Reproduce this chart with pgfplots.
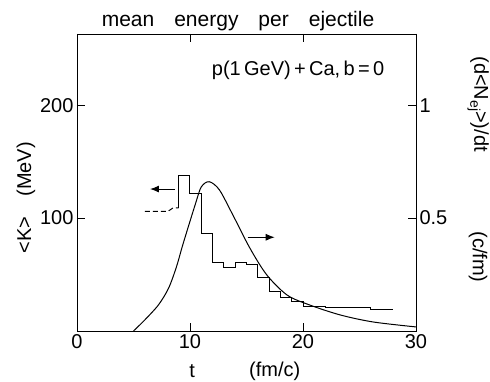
\documentclass[border=0pt]{standalone}
\usepackage{fontspec}
\setmainfont{Liberation Sans}
\usepackage{pgfplots}
\pgfplotsset{compat=1.18}
\usetikzlibrary{arrows.meta}
\newcommand{\bigf}{\fontsize{20}{24}\selectfont}
\begin{document}
\begin{tikzpicture}[font=\bigf]
\begin{axis}[
  scale only axis, width=339pt, height=297pt,
  xmin=0, xmax=30, ymin=0, ymax=263,
  xtick={0,10,20,30}, ytick={100,200},
  xtick pos=both, ytick pos=left,
  tick align=inside, major tick length=8pt,
  axis line style={line width=0.8pt},
  every tick/.append style={line width=0.8pt, black},
  tick label style={font=\bigf},
  /pgf/number format/assume math mode=true,
  clip=false,
]
% mean energy histogram (left axis)
\addplot[const plot, line width=1pt, black] coordinates {
  (9,109) (9,138) (10,121.5) (11,86.7) (12,60.6) (13,56.6) (14,61) (15,59)
  (16,47.8) (17,35.4) (18,30) (19,26.5) (20,22.1) (22,20.4) (26,18.6) (28,18.6)
};
\addplot[line width=1pt, black, dash pattern=on 5pt off 3pt] coordinates {
  (6,106) (8.05,106) (8.5,109) (9,109)
};
% arrows
\draw[line width=1pt, -{Latex[length=9pt,width=7pt]}] (axis cs:8.67,125.7) -- (axis cs:6.46,125.7);
\draw[line width=1pt, -{Latex[length=9pt,width=7pt]}] (axis cs:15.1,83) -- (axis cs:17.5,83);
% texts
\node[anchor=base, font=\fontsize{21}{24}\selectfont] at (axis cs:14.25,270) {mean\hspace{20pt}energy\hspace{20pt}per\hspace{20pt}ejectile};
\node[anchor=base east] at (axis cs:27.5,226.5) {p(1\,GeV)\,+\,Ca,\,b\,=\,0};
\node[rotate=90] at (axis cs:-4.51,118) {<K>\hspace{20pt}(MeV)};
\node[rotate=-90] at (axis cs:35.5,200.9) {(d<N\raisebox{-4pt}{\fontsize{14}{14}\selectfont ej}>)/dt};
\node[rotate=-90] at (axis cs:35.5,65.5) {(c/fm)};
\node[anchor=center] at (axis cs:10.2,-35.4) {t};
\node[anchor=center] at (axis cs:17.5,-35.4) {(fm/c)};
\coordinate (sw) at (rel axis cs:0,0);
\coordinate (ne) at (rel axis cs:1,1);
\end{axis}
\begin{axis}[
  scale only axis, width=339pt, height=297pt,
  xmin=0, xmax=30, ymin=0, ymax=1.315,
  hide x axis,
  ytick={0.5,1}, ytick pos=right, yticklabel pos=right,
  tick align=inside, major tick length=8pt,
  axis line style={line width=0.8pt},
  every tick/.append style={line width=0.8pt, black},
  tick label style={font=\bigf},
  /pgf/number format/assume math mode=true,
]
\addplot[smooth, line width=1pt, black] coordinates {
  (5.0,0) (6.0,0.049) (7.2,0.115) (8.1,0.189) (8.8,0.284) (9.4,0.388)
  (10.5,0.566) (11.0,0.638) (11.7,0.661) (12.6,0.625) (13.8,0.513) (15.3,0.367)
  (16.8,0.248) (18.6,0.159) (20.6,0.115) (23.3,0.071) (26.2,0.04) (30,0.018)
};
\end{axis}
\pgfresetboundingbox
\useasboundingbox ([shift={(-77pt,-51pt)}]sw) rectangle ([shift={(74pt,34pt)}]ne);
\end{tikzpicture}
\end{document}
